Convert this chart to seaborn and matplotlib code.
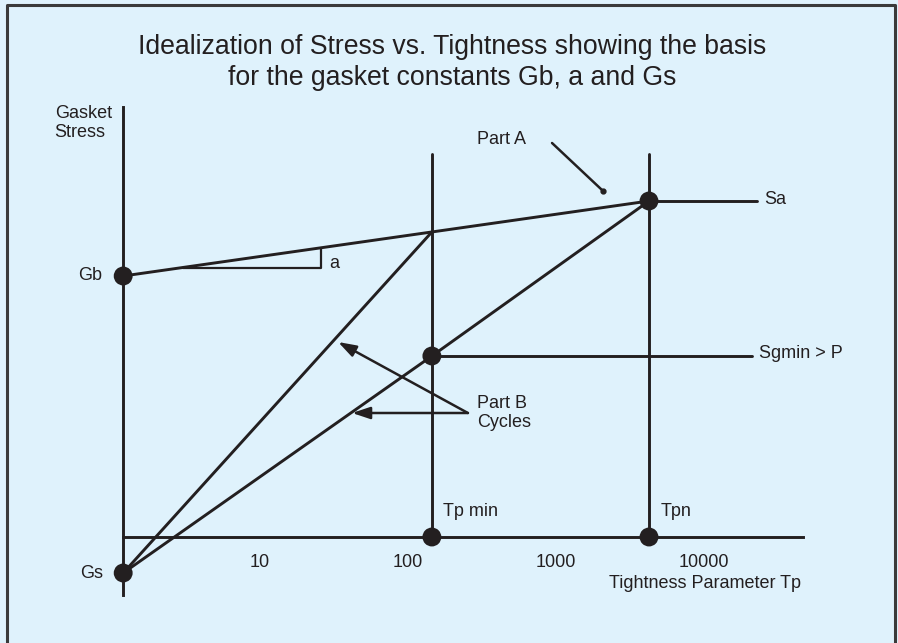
import numpy as np
import pandas as pd
import matplotlib
matplotlib.use("Agg")
import matplotlib.pyplot as plt
import seaborn as sns

# ---- values (Tp on a log axis, stress in chart divisions) ----
tp_origin = 1.19          # where the stress axis crosses the Tp axis
tp_axis_end = 46700
stress_axis_range = (-0.58, 4.30)
tp_ticks = [10, 100, 1000, 10000]
tp_tick_labels = ["10", "100", "1000", "10000"]
stress_ticks = [0.8, 1.8, 2.8, 3.8]

tp_min = 145
tp_n = 4250
gb = 2.61
gs = -0.36
sa = 3.36
sg_min = 1.81
guide_top = 3.83
sa_line_end = 22800
sg_line_end = 21100

# slope triangle for the constant "a"
tri_tp = [3.02, 25.8]
tri_stress = 2.69

# annotation anchors
part_a_line_tp = [940, 2080]
part_a_line_stress = [3.94, 3.46]
part_b_tail = (254, 1.24)
part_b_tips = [(33.7, 1.95), (41.9, 1.24)]

ink = "#231F20"
bg = "#DFF2FC"

sns.set_theme(style="white")
plt.rcParams["font.family"] = ["Liberation Sans", "DejaVu Sans"]


def on_gb_line(tp):
    """Stress on the Gb -> Sa line at a given Tp (straight on the log axis)."""
    f = (np.log10(tp) - np.log10(tp_origin)) / (np.log10(tp_n) - np.log10(tp_origin))
    return gb + (sa - gb) * f


kink = on_gb_line(tp_min)
tri_top = on_gb_line(tri_tp[1])

segments = {
    "gb_sa": ([tp_origin, tp_n], [gb, sa]),
    "steep": ([tp_origin, tp_min], [gs, kink]),
    "shallow": ([tp_origin, tp_min, tp_n], [gs, sg_min, sa]),
    "tpmin_guide": ([tp_min, tp_min], [0, guide_top]),
    "tpn_guide": ([tp_n, tp_n], [0, guide_top]),
    "sa_level": ([tp_n, sa_line_end], [sa, sa]),
    "sg_level": ([tp_min, sg_line_end], [sg_min, sg_min]),
}
rows = []
for name, (xs, ys) in segments.items():
    for i, (x, y) in enumerate(zip(xs, ys)):
        rows.append({"seg": name, "order": i, "tp": x, "stress": y})
lines_df = pd.DataFrame(rows)

tri_df = pd.DataFrame({
    "seg": ["tri"] * 3,
    "tp": [tri_tp[0], tri_tp[1], tri_tp[1]],
    "stress": [tri_stress, tri_stress, tri_top],
})
lead_df = pd.DataFrame({"seg": ["lead"] * 2, "tp": part_a_line_tp,
                        "stress": part_a_line_stress})

dots_df = pd.DataFrame({
    "tp": [tp_origin, tp_origin, tp_n, tp_min, tp_min, tp_n],
    "stress": [gb, gs, sa, sg_min, 0, 0],
})

fig = plt.figure(figsize=(8.98, 6.43), dpi=100)
fig.patch.set_facecolor(bg)
ax = fig.add_axes([0, 0, 1, 1])
ax.set_facecolor(bg)
ax.set_xscale("log")
ax.set_xlim(10 ** -0.7568, 10 ** 5.3108)
ax.set_ylim(-1.06, 5.37)

sns.lineplot(data=lines_df, x="tp", y="stress", units="seg", estimator=None,
             sort=False, color=ink, lw=2.1, ax=ax, legend=False)
sns.lineplot(data=tri_df, x="tp", y="stress", units="seg", estimator=None,
             sort=False, color=ink, lw=1.6, ax=ax, legend=False)
sns.lineplot(data=lead_df, x="tp", y="stress", units="seg", estimator=None,
             sort=False, color=ink, lw=1.8, ax=ax, legend=False)
ax.plot(part_a_line_tp[-1], part_a_line_stress[-1], "o", color=ink, ms=3.5)
sns.scatterplot(data=dots_df, x="tp", y="stress", s=185, color=ink,
                edgecolor="none", ax=ax, zorder=5, legend=False)

for tip in part_b_tips:
    ax.annotate("", xy=tip, xytext=part_b_tail,
                arrowprops=dict(arrowstyle="-|>,head_length=0.9,head_width=0.3",
                                color=ink, lw=1.8, shrinkA=0, shrinkB=0))

# axes drawn as spines crossing at the origin point
for side in ["top", "right"]:
    ax.spines[side].set_visible(False)
ax.spines["left"].set_position(("data", tp_origin))
ax.spines["left"].set_bounds(*stress_axis_range)
ax.spines["bottom"].set_position(("data", 0))
ax.spines["bottom"].set_bounds(tp_origin, tp_axis_end)
for side in ["left", "bottom"]:
    ax.spines[side].set_color(ink)
    ax.spines[side].set_linewidth(2.1)
    ax.spines[side].set_zorder(3)

ax.set_xticks(tp_ticks)
ax.set_xticklabels(tp_tick_labels)
ax.xaxis.set_minor_locator(matplotlib.ticker.NullLocator())
ax.set_yticks(stress_ticks)
ax.set_yticklabels([])
ax.tick_params(axis="x", direction="in", length=12.2, width=1.8, color=ink,
               pad=12, labelsize=13, labelcolor=ink)
ax.tick_params(axis="y", direction="in", length=13, width=1.8, color=ink)
ax.set_xlabel("")
ax.set_ylabel("")

txt = dict(color=ink, fontsize=13)
ax.text(0.856, gb, "Gb", ha="right", va="center", **txt)
ax.text(0.87, gs, "Gs", ha="right", va="center", **txt)
ax.text(0.41, 4.14, "Gasket\nStress", ha="left", va="center", linespacing=1.15, **txt)
ax.text(29.2, 2.74, "a", ha="left", va="center", **txt)
ax.text(292, 3.98, "Part A", ha="left", va="center", **txt)
ax.text(292, 1.24, "Part B\nCycles", ha="left", va="center", linespacing=1.1, **txt)
ax.text(25400, 3.38, "Sa", ha="left", va="center", **txt)
ax.text(23500, 1.84, "Sgmin > P", ha="left", va="center", **txt)
ax.text(172, 0.25, "Tp min", ha="left", va="center", **txt)
ax.text(5120, 0.25, "Tpn", ha="left", va="center", **txt)
ax.text(10 ** 4.007, -0.47, "Tightness Parameter Tp", ha="center", va="center", **txt)

fig.text(0.503, 0.903,
         "Idealization of Stress vs. Tightness showing the basis\n"
         "for the gasket constants Gb, a and Gs",
         ha="center", va="center", color=ink, fontsize=19.2, linespacing=1.22)

# frame around the panel (open at the bottom edge)
fig.add_artist(plt.Line2D([7 / 898, 7 / 898, 895 / 898, 895 / 898],
                          [-0.01, 1 - 5 / 643, 1 - 5 / 643, -0.01],
                          transform=fig.transFigure, color="#3a3a3a", lw=2.2))

fig.savefig("out.png", dpi=100, facecolor=bg)
